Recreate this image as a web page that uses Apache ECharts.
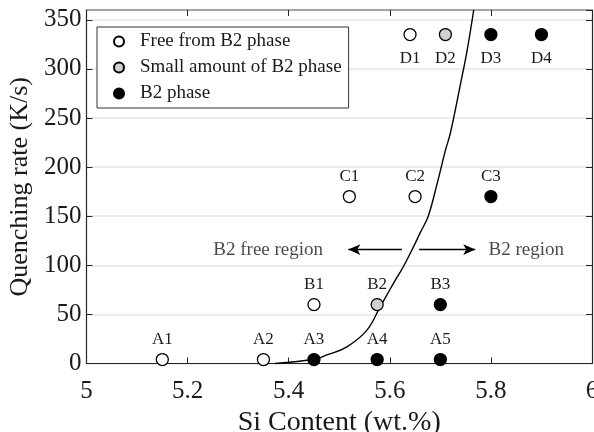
<!DOCTYPE html>
<html>
<head>
<meta charset="utf-8">
<script src="https://cdn.jsdelivr.net/npm/echarts@6/dist/echarts.min.js"></script>
<style>
  html, body { margin: 0; padding: 0; background: #fff; }
  #chart { width: 594px; height: 432px; }
</style>
</head>
<body>
<div id="chart"></div>
<script>
// Samples without B2 phase
const freeNames = ['A1', 'A2', 'B1', 'C1', 'C2', 'D1'];
const freeSi    = [5.15, 5.35, 5.45, 5.52, 5.65, 5.64];
const freeRate  = [4, 4, 60, 170, 170, 335];

// Samples with a small amount of B2 phase
const smallNames = ['B2', 'D2'];
const smallSi    = [5.575, 5.71];
const smallRate  = [60, 335];

// Samples with B2 phase
const b2Names = ['A3', 'A4', 'A5', 'B3', 'C3', 'D3', 'D4'];
const b2Si    = [5.45, 5.575, 5.70, 5.70, 5.80, 5.80, 5.90];
const b2Rate  = [4, 4, 4, 60, 170, 335, 335];

// Boundary between the B2 free region and the B2 region
const boundarySi   = [5.373, 5.4525, 5.4756, 5.5152, 5.5548, 5.5812, 5.5945, 5.6109, 5.6273, 5.647, 5.660, 5.676, 5.694, 5.710, 5.720, 5.740, 5.753, 5.766];
const boundaryRate = [0, 4.6, 8.7, 17, 34, 58, 70, 85, 99, 119, 133, 150, 184, 217, 235, 285, 319, 360];

// Region annotations: arrows and their captions
const arrowY      = 116;
const arrowLeft   = [5.624, 5.518];
const arrowRight  = [5.658, 5.769];
const regionText  = ['B2 free region', 'B2 region'];
const regionSi    = [5.3594, 5.870];
const regionRate  = [116, 116];

const xTicks = { min: 5, max: 6, interval: 0.2 };
const yTicks = { min: 0, max: 360, interval: 50 };

const FONT = "'Liberation Serif', 'Times New Roman', serif";
const INK = '#1a1a1a';

function points(si, rate, names) {
  return si.map((x, i) => {
    const item = { value: [x, rate[i]], name: names[i] };
    if (names[i].charAt(0) === 'D') {
      item.label = { position: 'bottom', distance: 9 };
    }
    return item;
  });
}

const pointLabel = {
  show: true,
  position: 'top',
  distance: 5,
  formatter: p => p.name,
  fontFamily: FONT,
  fontSize: 17,
  color: INK
};

function scatter(name, si, rate, names, fill) {
  return {
    name: name,
    type: 'scatter',
    data: points(si, rate, names),
    symbol: 'circle',
    symbolSize: 12,
    itemStyle: { color: fill, borderColor: '#000', borderWidth: 1.3, opacity: 1 },
    label: pointLabel,
    emphasis: { disabled: true },
    z: 5
  };
}

const chart = echarts.init(document.getElementById('chart'), null, { renderer: 'canvas' });

chart.setOption({
  animation: false,
  backgroundColor: '#fff',
  textStyle: { fontFamily: FONT, color: INK },
  grid: { left: 86.5, right: 2, top: 10, bottom: 68.5, containLabel: false, outerBoundsMode: 'none' },
  legend: {
    data: ['Free from B2 phase', 'Small amount of B2 phase', 'B2 phase'],
    orient: 'vertical',
    left: 97,
    top: 27,
    padding: [5, 7, 5, 16],
    itemGap: 7,
    itemWidth: 10,
    itemHeight: 10,
    backgroundColor: '#fff',
    borderColor: '#333',
    borderWidth: 1,
    textStyle: { fontFamily: FONT, fontSize: 19, color: INK, padding: [0, 0, 0, 11] },
    z: 10
  },
  xAxis: [{
    type: 'value',
    min: xTicks.min, max: xTicks.max, interval: xTicks.interval,
    name: 'Si Content (wt.%)',
    nameLocation: 'middle',
    nameGap: 29,
    nameTextStyle: { fontFamily: FONT, fontSize: 28, color: INK },
    axisLine: { show: true, onZero: false, lineStyle: { color: '#262626', width: 1.2 } },
    axisTick: { show: true, inside: true, length: 6, lineStyle: { color: '#262626' } },
    axisLabel: { fontFamily: FONT, fontSize: 25, color: INK, margin: 15 },
    splitLine: { show: false }
  }, {
    type: 'value',
    position: 'top',
    min: xTicks.min, max: xTicks.max, interval: xTicks.interval,
    axisLine: { show: true, onZero: false, lineStyle: { color: '#8c8c8c', width: 1.5 } },
    axisTick: { show: true, inside: true, length: 6, lineStyle: { color: '#262626' } },
    axisLabel: { show: false },
    splitLine: { show: false }
  }],
  yAxis: [{
    type: 'value',
    min: yTicks.min, max: yTicks.max, interval: yTicks.interval,
    name: 'Quenching rate (K/s)',
    nameLocation: 'middle',
    nameGap: 44,
    nameTextStyle: { fontFamily: FONT, fontSize: 26, color: INK },
    axisLine: { show: true, onZero: false, lineStyle: { color: '#262626', width: 1.2 } },
    axisTick: { show: true, inside: true, length: 6, lineStyle: { color: '#262626' } },
    axisLabel: { fontFamily: FONT, fontSize: 25, color: INK, margin: 5, showMaxLabel: false },
    splitLine: { show: true, lineStyle: { color: '#e6e6e6', width: 1.5 } }
  }, {
    type: 'value',
    position: 'right',
    min: yTicks.min, max: yTicks.max, interval: yTicks.interval,
    axisLine: { show: true, onZero: false, lineStyle: { color: '#262626', width: 1.2 } },
    axisTick: { show: true, inside: true, length: 6, lineStyle: { color: '#262626' } },
    axisLabel: { show: false },
    splitLine: { show: false }
  }],
  series: [
    scatter('Free from B2 phase', freeSi, freeRate, freeNames, '#ffffff'),
    scatter('Small amount of B2 phase', smallSi, smallRate, smallNames, '#d4d0c8'),
    scatter('B2 phase', b2Si, b2Rate, b2Names, '#000000'),
    {
      name: 'boundary',
      type: 'line',
      data: boundarySi.map((x, i) => [x, boundaryRate[i]]),
      smooth: 0.4,
      showSymbol: false,
      clip: true,
      lineStyle: { color: '#000', width: 1.4 },
      emphasis: { disabled: true },
      silent: true,
      z: 3,
      markLine: {
        silent: true,
        symbol: ['none', 'arrow'],
        symbolSize: [8, 12],
        label: { show: false },
        lineStyle: { color: '#000', width: 1.3, type: 'solid' },
        data: [
          [{ coord: [arrowLeft[0], arrowY] }, { coord: [arrowLeft[1], arrowY] }],
          [{ coord: [arrowRight[0], arrowY] }, { coord: [arrowRight[1], arrowY] }]
        ]
      }
    },
    {
      name: 'regions',
      type: 'scatter',
      data: regionSi.map((x, i) => ({ value: [x, regionRate[i]], name: regionText[i] })),
      symbolSize: 0,
      silent: true,
      label: {
        show: true,
        position: 'inside',
        formatter: p => p.name,
        fontFamily: FONT,
        fontSize: 19,
        color: INK
      },
      z: 4
    }
  ]
});
</script>
</body>
</html>
